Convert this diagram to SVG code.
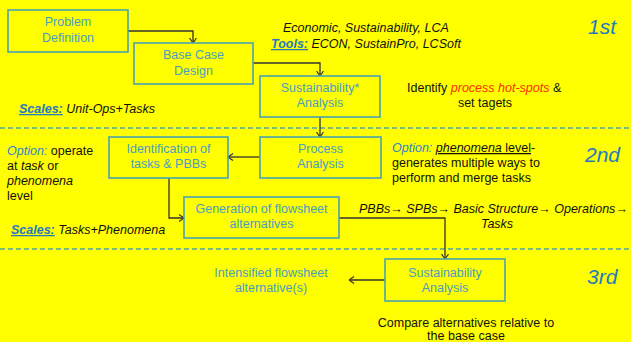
<svg xmlns="http://www.w3.org/2000/svg" width="631" height="342" viewBox="0 0 631 342">
<defs>
<marker id="arr" viewBox="0 0 6 8" refX="5.5" refY="4" markerWidth="6" markerHeight="8" markerUnits="userSpaceOnUse" orient="auto">
<path d="M0.5,0.5 L5.5,4 L0.5,7.5" fill="none" stroke="#333" stroke-width="1.2"/>
</marker>
</defs>
<style>
text{font-family:"Liberation Sans",Arial,sans-serif;font-size:12.5px;}
.box rect{fill:#ffff00;stroke:#4aa3b3;stroke-width:1.6;}
.box text{fill:#4a9dc2;text-anchor:middle;}
.k{fill:#111;}
.i{font-style:italic;}
.b{fill:#1f7ac0;font-style:italic;font-weight:bold;text-decoration:underline;}
.ob{fill:#2f86c8;font-style:italic;}
.stage{fill:#1f7ac0;font-style:italic;font-size:21px;}
.dash{stroke:#52a9a0;stroke-width:1.5;stroke-dasharray:5,3;fill:none;}
.conn path{fill:none;stroke:#333;stroke-width:1.3;marker-end:url(#arr);}
</style>
<rect width="631" height="342" fill="#ffff00"/>
<line class="dash" x1="0" y1="128" x2="631" y2="128"/>
<line class="dash" x1="0" y1="249" x2="631" y2="249"/>

<g class="conn">
<path d="M128,31 H193 V43"/>
<path d="M253,63 H320 V76"/>
<path d="M320,117 V137"/>
<path d="M260,157 H228"/>
<path d="M169,178 V218 H184"/>
<path d="M339,218 H445 V259"/>
<path d="M385,280 H349"/>
</g>

<g id="problem-definition" class="box">
<rect x="8" y="10" width="120" height="42"/>
<text x="68" y="26">Problem</text>
<text x="68" y="42">Definition</text>
</g>
<g id="base-case-design" class="box">
<rect x="134" y="43" width="119" height="41"/>
<text x="193.5" y="59">Base Case</text>
<text x="193.5" y="75">Design</text>
</g>
<g id="sustainability-analysis-1" class="box">
<rect x="260" y="76" width="120" height="41"/>
<text x="320" y="92">Sustainability*</text>
<text x="320" y="107">Analysis</text>
</g>
<g id="process-analysis" class="box">
<rect x="260" y="137" width="121" height="41"/>
<text x="320.5" y="153">Process</text>
<text x="320.5" y="168">Analysis</text>
</g>
<g id="identification" class="box">
<rect x="109" y="137" width="119" height="41"/>
<text x="168.5" y="153">Identification of</text>
<text x="168.5" y="168">tasks &amp; PBBs</text>
</g>
<g id="generation" class="box">
<rect x="184" y="197" width="155" height="41"/>
<text x="261.5" y="213">Generation of flowsheet</text>
<text x="261.5" y="228">alternatives</text>
</g>
<g id="sustainability-analysis-3" class="box">
<rect x="385" y="259" width="120" height="42"/>
<text x="445" y="277">Sustainability</text>
<text x="445" y="292">Analysis</text>
</g>
<g id="intensified" class="box">
<text x="271" y="277">Intensified flowsheet</text>
<text x="271" y="292">alternative(s)</text>
</g>

<text class="k i" x="283" y="32">Economic, Sustainability, LCA</text>
<text x="271" y="48"><tspan class="b">Tools:</tspan><tspan class="k i"> ECON, SustainPro, LCSoft</tspan></text>
<text class="stage" x="588" y="34">1st</text>
<text class="k" x="407" y="92">Identify <tspan fill="#ff2a00" font-style="italic">process hot-spots</tspan> &amp;</text>
<text class="k" x="485" y="107" text-anchor="middle">set tagets</text>
<text x="19" y="113"><tspan class="b">Scales:</tspan><tspan class="k i"> Unit-Ops+Tasks</tspan></text>

<text x="7" y="155"><tspan class="ob">Option:</tspan><tspan class="k"> operate</tspan></text>
<text class="k" x="7" y="170">at <tspan font-style="italic">task</tspan> or</text>
<text class="k i" x="7" y="185">phenomena</text>
<text class="k" x="7" y="200">level</text>
<text x="11" y="234"><tspan class="b">Scales:</tspan><tspan class="k i"> Tasks+Phenomena</tspan></text>

<text x="392" y="152"><tspan class="ob">Option:</tspan><tspan class="k"> </tspan><tspan class="k" text-decoration="underline"><tspan font-style="italic">phenomena</tspan> level</tspan><tspan class="k">-</tspan></text>
<text class="k" x="392" y="167">generates multiple ways to</text>
<text class="k" x="392" y="182">perform and merge tasks</text>
<text class="stage" x="585" y="162">2nd</text>
<text class="k i" x="359" y="213">PBBs<tspan font-style="normal">→</tspan> SPBs<tspan font-style="normal">→</tspan> Basic Structure<tspan font-style="normal">→</tspan> Operations<tspan font-style="normal">→</tspan></text>
<text class="k i" x="497" y="228" text-anchor="middle">Tasks</text>

<text class="stage" x="587" y="284">3rd</text>
<text class="k" x="466" y="327" text-anchor="middle">Compare alternatives relative to</text>
<text class="k" x="466" y="340" text-anchor="middle">the base case</text>
</svg>
